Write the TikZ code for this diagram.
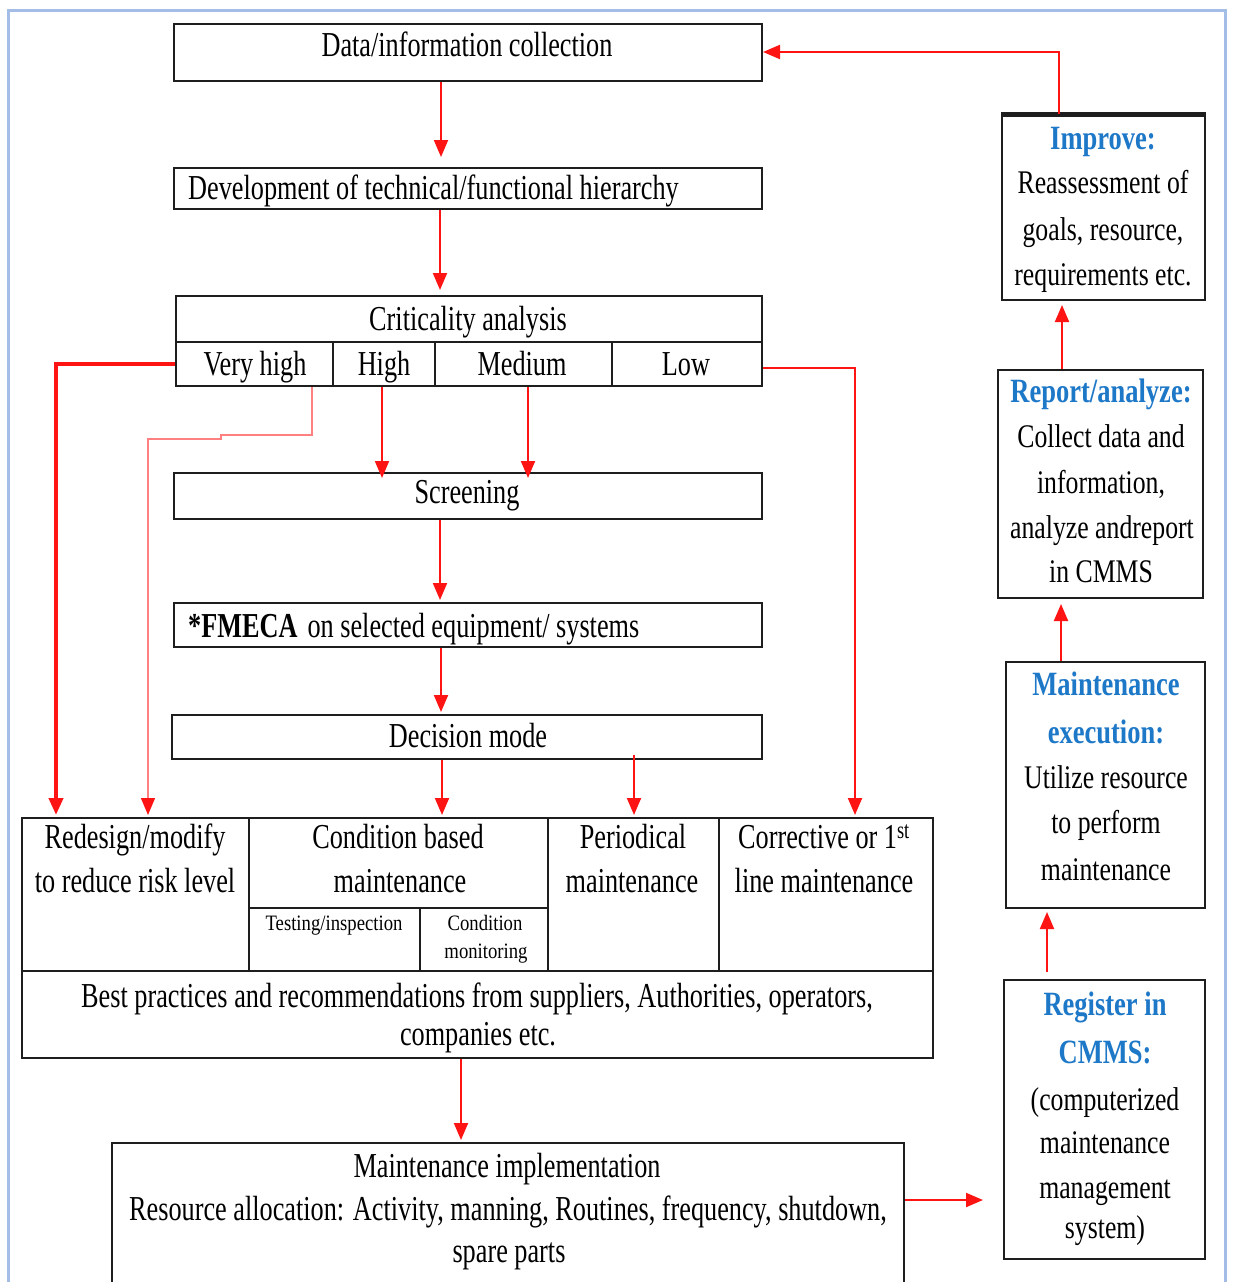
\documentclass[tikz,border=0pt]{standalone}
\usepackage{fontspec}
\setmainfont{Liberation Serif}
\newfontfamily\condfont[FakeStretch=0.75]{Liberation Serif}
\newfontfamily\sidefont[FakeStretch=0.78]{Liberation Serif}
\newfontfamily\smallfont[FakeStretch=0.85]{Liberation Serif}
\usetikzlibrary{arrows.meta,calc}
\definecolor{frameblue}{RGB}{164,189,230}
\definecolor{headblue}{RGB}{30,120,200}
\definecolor{boxline}{RGB}{30,30,30}
\definecolor{arrowred}{RGB}{255,20,20}
\definecolor{paleRed}{RGB}{255,128,128}
\begin{document}
\begin{tikzpicture}[x=1pt,y=-1pt,
  box/.style={draw=boxline, line width=2pt, inner sep=0pt, anchor=north west, rectangle},
  main/.style={font=\condfont\fontsize{35}{42}\selectfont, anchor=base, inner sep=0pt},
  side/.style={font=\sidefont\fontsize{33}{40}\selectfont, anchor=base, inner sep=0pt},
  head/.style={font=\sidefont\bfseries\fontsize{34}{40}\selectfont, text=headblue, anchor=base, inner sep=0pt},
  tiny/.style={font=\smallfont\fontsize{22}{26}\selectfont, anchor=base, inner sep=0pt},
  arr/.style={draw=arrowred, line width=2pt, -{Triangle[length=17pt,width=14pt]}},
  thinarr/.style={draw=paleRed, line width=1.3pt, -{Triangle[length=17pt,width=14pt,color=arrowred]}}
]
\useasboundingbox (0,0) rectangle (1233,1282);
\clip (0,0) rectangle (1233,1282);
\fill[white] (0,0) rectangle (1233,1282);

% outer frame
\draw[frameblue, line width=3pt] (8,1300) -- (8,10) -- (1225,10) -- (1225,1300);

% main column boxes
\node[box, minimum width=588pt, minimum height=57pt] (data) at (173,23) {};
\node[box, minimum width=588pt, minimum height=41pt] (dev) at (173,167) {};
\node[box, minimum width=586pt, minimum height=46pt] (crit) at (175,295) {};
\node[box, minimum width=157pt, minimum height=44pt] (vhigh) at (175,341) {};
\node[box, minimum width=102pt, minimum height=44pt] (high) at (332,341) {};
\node[box, minimum width=177pt, minimum height=44pt] (medium) at (434,341) {};
\node[box, minimum width=150pt, minimum height=44pt] (low) at (611,341) {};
\node[box, minimum width=588pt, minimum height=46pt] (screen) at (173,472) {};
\node[box, minimum width=588pt, minimum height=44pt] (fmeca) at (173,602) {};
\node[box, minimum width=590pt, minimum height=44pt] (decision) at (171,714) {};

% strategy table
\node[box, minimum width=227pt, minimum height=153pt] (redesign) at (21,817) {};
\node[box, minimum width=299pt, minimum height=90pt] (cbm) at (248,817) {};
\node[box, minimum width=171pt, minimum height=63pt] (testing) at (248,907) {};
\node[box, minimum width=128pt, minimum height=63pt] (condmon) at (419,907) {};
\node[box, minimum width=171pt, minimum height=153pt] (periodical) at (547,817) {};
\node[box, minimum width=214pt, minimum height=153pt] (corrective) at (718,817) {};
\node[box, minimum width=911pt, minimum height=87pt] (best) at (21,970) {};
\node[box, minimum width=792pt, minimum height=170pt] (impl) at (111,1142) {};

% right column boxes
\node[box, minimum width=203pt, minimum height=185pt] (improve) at (1001,114) {};
\draw[boxline, line width=5pt] (improve.north west) -- (improve.north east);
\node[box, minimum width=205pt, minimum height=228pt] (report) at (997,369) {};
\node[box, minimum width=199pt, minimum height=246pt] (exec) at (1005,661) {};
\node[box, minimum width=201pt, minimum height=279pt] (register) at (1003,979) {};

% texts of the main column
\node[main] (tdata) at (467,56) {Data/information collection};
\node[main, anchor=base west] (tdev) at (188,199) {Development of technical/functional hierarchy};
\node[main] (tcrit) at (468,330) {Criticality analysis};
\node[main] (tvh) at (255,375) {Very high};
\node[main] (th) at (384,375) {High};
\node[main] (tm) at (522,375) {Medium};
\node[main] (tl) at (686,375) {Low};
\node[main] (tscr) at (467,503) {Screening};
\node[main, anchor=base west] (tfm) at (188,637) {\textbf{*FMECA}\hspace{10pt}on selected equipment/ systems};
\node[main] (tdec) at (468,747) {Decision mode};

\node[main] (tre1) at (135,848) {Redesign/modify};
\node[main] (tre2) at (135,892) {to reduce risk level};
\node[main] (tcb1) at (398,848) {Condition based};
\node[main] (tcb2) at (400,892) {maintenance};
\node[tiny] (tti) at (334,930) {Testing/inspection};
\node[tiny] (tcm1) at (485,930) {Condition};
\node[tiny] (tcm2) at (486,958) {monitoring};
\node[main] (tpe1) at (633,848) {Periodical};
\node[main] (tpe2) at (632,892) {maintenance};
\node[main] (tco1) at (824,848) {Corrective or 1\textsuperscript{st}};
\node[main] (tco2) at (824,892) {line maintenance};
\node[main] (tbe1) at (477,1007) {Best practices and recommendations from suppliers, Authorities, operators,};
\node[main] (tbe2) at (478,1045) {companies etc.};
\node[main] (tim1) at (507,1177) {Maintenance implementation};
\node[main] (tim2) at (508,1220) {Resource allocation: Activity, manning, Routines, frequency, shutdown,};
\node[main] (tim3) at (509,1262) {spare parts};

% texts of the right column
\node[head] (tip1) at (1103,149) {Improve:};
\node[side] (tip2) at (1103,193) {Reassessment of};
\node[side] (tip3) at (1103,240) {goals, resource,};
\node[side] (tip4) at (1103,285) {requirements etc.};

\node[head] (trp1) at (1101,402) {Report/analyze:};
\node[side] (trp2) at (1101,447) {Collect data and};
\node[side] (trp3) at (1101,493) {information,};
\node[side] (trp4) at (1102,538) {analyze andreport};
\node[side] (trp5) at (1101,582) {in CMMS};

\node[head] (tex1) at (1106,695) {Maintenance};
\node[head] (tex2) at (1106,743) {execution:};
\node[side] (tex3) at (1106,788) {Utilize resource};
\node[side] (tex4) at (1106,833) {to perform};
\node[side] (tex5) at (1106,880) {maintenance};

\node[head] (trg1) at (1105,1015) {Register in};
\node[head] (trg2) at (1105,1063) {CMMS:};
\node[side] (trg3) at (1105,1110) {(computerized};
\node[side] (trg4) at (1105,1153) {maintenance};
\node[side] (trg5) at (1105,1198) {management};
\node[side] (trg6) at (1105,1238) {system)};

% flow of the main column
\draw[arr, shorten >=10pt] ([xshift=268pt]data.south west) -- ([xshift=268pt]dev.north west);
\draw[arr, shorten >=5pt] ([xshift=267pt]dev.south west) -- ([xshift=265pt]crit.north west);
\draw[arr, shorten >=-6pt] ([xshift=50pt]high.south west) -- ([xshift=209pt]screen.north west);
\draw[arr, shorten >=-6pt] ([xshift=94pt]medium.south west) -- ([xshift=355pt]screen.north west);
\draw[arr, shorten >=2pt] ([xshift=267pt]screen.south west) -- ([xshift=267pt]fmeca.north west);
\draw[arr, shorten >=2pt] ([xshift=268pt]fmeca.south west) -- ([xshift=270pt]decision.north west);
\draw[arr, shorten >=2pt] ([xshift=271pt]decision.south west) -- ([xshift=194pt]cbm.north west);
\draw[arr, shorten >=2pt] ([xshift=463pt,yshift=5pt]decision.south west) -- ([xshift=87pt]periodical.north west);

% criticality branches
\draw[arr, line width=4pt, shorten >=2pt] (vhigh.west) -| ([xshift=35pt]redesign.north west);
\draw[thinarr, shorten >=2pt] ([xshift=-22pt]vhigh.south east) |- ++(-91,48) -- ++(0,4) -| ([xshift=127pt]redesign.north west);
\draw[arr, shorten >=2pt] ([yshift=-4pt]low.east) -| ([xshift=137pt]corrective.north west);

% towards implementation and the CMMS loop
\draw[arr, shorten >=2pt] ([xshift=440pt]best.south west) -- ([xshift=350pt]impl.north west);
\coordinate (implout) at ([yshift=-58pt]impl.north east);
\draw[arr, shorten >=20pt] (implout) -- (implout -| register.west);
\draw[arr, shorten <=7pt, shorten >=3pt] ([xshift=44pt]register.north west) -- ([xshift=42pt]exec.south west);
\draw[arr, shorten >=5pt] ([xshift=56pt]exec.north west) -- ([xshift=64pt]report.south west);
\draw[arr, shorten >=4pt] ([xshift=65pt]report.north west) -- ([xshift=61pt]improve.south west);
\draw[arr] ([xshift=58pt]improve.north west) |- ([yshift=-29pt]data.north east);
\end{tikzpicture}
\end{document}
